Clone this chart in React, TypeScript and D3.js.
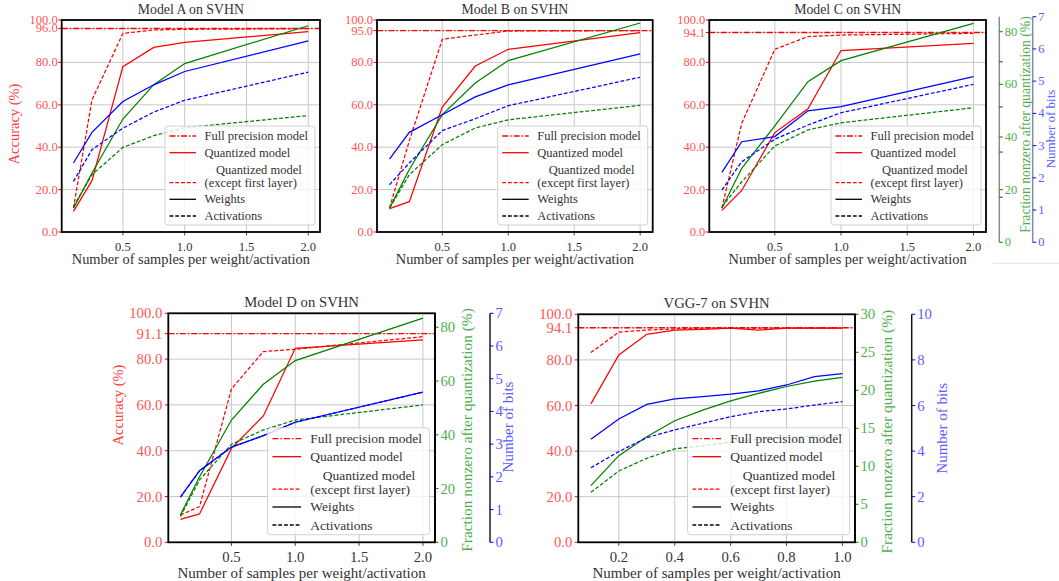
import { useEffect, useRef } from 'react';
import * as d3 from 'd3';

const FONT = "'Liberation Serif', 'DejaVu Serif', serif";

// x values: samples per weight/activation
const samplesSvhn = [0.1, 0.25, 0.5, 0.75, 1.0, 2.0];
const samplesVgg = [0.1, 0.2, 0.3, 0.4, 0.5, 0.6, 0.7, 0.8, 0.9, 1.0];

const titles = ['Model A on SVHN', 'Model B on SVHN', 'Model C on SVHN', 'Model D on SVHN', 'VGG-7 on SVHN'];
const fullPrecisionAcc = [96.0, 95.0, 94.1, 91.1, 94.1];

// Model A
const accQuantA = [9.7, 24.2, 78.0, 87.1, 89.5, 94.5];
const accQuantExA = [11.3, 62.3, 93.7, 95.3, 95.6, 95.9];
const nonzeroWA = [9.6, 23.7, 45.4, 59.2, 67.7, 82.9];
const nonzeroAA = [10.3, 23.0, 34.0, 38.7, 41.9, 46.8];
const bitsWA = [2.28, 3.29, 4.31, 4.86, 5.3, 6.31];
const bitsAA = [1.67, 2.72, 3.43, 3.96, 4.35, 5.28];

// Model B
const accQuantB = [11.0, 14.3, 58.9, 78.3, 86.2, 94.0];
const accQuantExB = [11.3, 43.0, 90.9, 92.9, 94.8, 95.0];
const nonzeroWB = [9.6, 25.1, 47.2, 59.9, 68.9, 84.0];
const nonzeroAB = [9.6, 23.0, 35.1, 41.8, 45.1, 50.9];
const bitsWB = [2.41, 3.29, 3.87, 4.46, 4.86, 5.88];
const bitsAB = [1.56, 2.28, 3.35, 3.74, 4.17, 5.11];

// Model C
const accQuantC = [10.2, 19.6, 46.9, 58.1, 85.6, 89.0];
const accQuantExC = [11.3, 51.3, 86.2, 92.2, 92.9, 93.7];
const nonzeroWC = [12.9, 28.1, 44.2, 61.0, 69.0, 83.2];
const nonzeroAC = [13.5, 23.0, 36.6, 42.7, 45.4, 51.1];
const bitsWC = [2.17, 3.12, 3.28, 4.08, 4.21, 5.14];
const bitsAC = [1.62, 2.5, 3.2, 3.64, 4.02, 4.9];

// Model D
const accQuantD = [10.0, 12.4, 41.0, 55.2, 84.7, 88.4];
const accQuantExD = [11.9, 15.6, 67.0, 83.3, 84.3, 89.8];
const nonzeroWD = [10.2, 24.4, 45.5, 58.8, 67.6, 83.4];
const nonzeroAD = [9.6, 23.2, 36.5, 41.8, 45.5, 51.1];
const bitsWD = [1.38, 2.19, 2.91, 3.26, 3.67, 4.59];
const bitsAD = [1.38, 2.19, 2.91, 3.26, 3.67, 4.59];

// VGG-7
const accQuantV = [60.7, 82.2, 91.2, 93.1, 93.4, 93.9, 93.1, 93.9, 93.9, 93.9];
const accQuantExV = [83.2, 92.2, 93.1, 93.6, 93.9, 93.9, 93.9, 93.9, 93.9, 93.9];
const nonzeroWV = [7.46, 11.4, 13.9, 16.0, 17.4, 18.6, 19.6, 20.5, 21.2, 21.7];
const nonzeroAV = [6.58, 9.39, 11.05, 12.3, 12.7, 13.2, 13.55, 13.8, 14.0, 14.1];
const bitsWV = [4.52, 5.41, 6.05, 6.29, 6.39, 6.5, 6.64, 6.9, 7.27, 7.4];
const bitsAV = [3.27, 3.98, 4.59, 4.93, 5.22, 5.51, 5.73, 5.85, 6.02, 6.17];

// tick labels
const accBaseTicks = [0, 20, 40, 60, 80, 100];
const xTicksSvhn = [0.5, 1.0, 1.5, 2.0];
const xTicksVgg = [0.2, 0.4, 0.6, 0.8, 1.0];
const greenTicksSvhn = [0, 20, 40, 60, 80];
const blueTicksSvhn = [0, 1, 2, 3, 4, 5, 6, 7];
const greenTicksVgg = [0, 5, 10, 15, 20, 25, 30];
const blueTicksVgg = [0, 2, 4, 6, 8, 10];

const legendLabels = ['Full precision model', 'Quantized model', 'Quantized model', '(except first layer)', 'Weights', 'Activations'];

const RED = '#ff0000';
const GREEN = '#008000';
const BLUE = '#0000ff';
const RED_TXT = '#ff5555';
const GREEN_TXT = '#4caf4c';
const BLUE_TXT = '#5b5bff';

const topSize = {
  tick: 12.5, legend: 12.5, title: 13.8, xlabel: 14.4, ylabel: 14.5, glabel: 13.7, blabel: 13,
  s: 1, xTickBase: 18.7, xLabelBase: 32, yPad: 4,
};
const botSize = {
  tick: 14.7, legend: 13.5, title: 14.7, xlabel: 15, ylabel: 14.5, glabel: 15.4, blabel: 15,
  s: 1.08, xTickBase: 20, xLabelBase: 36, yPad: 6,
};

const panels = [
  {
    title: titles[0], x: samplesSvhn, fp: fullPrecisionAcc[0],
    quant: accQuantA, quantEx: accQuantExA, nzW: nonzeroWA, nzA: nonzeroAA, bW: bitsWA, bA: bitsAA,
    l: 61.7, r: 320, t: 20, b: 232, xDomain: [0.005, 2.095], xTicks: xTicksSvhn,
    greenDomain: [0, 85.2], blueDomain: [0, 7], twin: null, size: topSize,
    yLabel: { x: 13.5, y: 124 },
  },
  {
    title: titles[1], x: samplesSvhn, fp: fullPrecisionAcc[1],
    quant: accQuantB, quantEx: accQuantExB, nzW: nonzeroWB, nzA: nonzeroAB, bW: bitsWB, bA: bitsAB,
    l: 377, r: 652.7, t: 20, b: 232, xDomain: [0.005, 2.095], xTicks: xTicksSvhn,
    greenDomain: [0, 85.2], blueDomain: [0, 7], twin: null, size: topSize,
    yLabel: null,
  },
  {
    title: titles[2], x: samplesSvhn, fp: fullPrecisionAcc[2],
    quant: accQuantC, quantEx: accQuantExC, nzW: nonzeroWC, nzA: nonzeroAC, bW: bitsWC, bA: bitsAC,
    l: 709.3, r: 986, t: 20, b: 232, xDomain: [0.005, 2.095], xTicks: xTicksSvhn,
    greenDomain: [0, 85.7], blueDomain: [0, 7], size: topSize,
    twin: {
      t: 16.7, b: 242.3, gx: 999.3, bx: 1032.7, spine: '#8a8a8a', blueSpine: '#8a8aa0',
      gTicks: greenTicksSvhn, bTicks: blueTicksSvhn, gLabel: { x: 1025, y: 124.5 }, bLabel: { x: 1050, y: 129 },
      extraTicks: true,
    },
    yLabel: null,
  },
  {
    title: titles[3], x: samplesSvhn, fp: fullPrecisionAcc[3],
    quant: accQuantD, quantEx: accQuantExD, nzW: nonzeroWD, nzA: nonzeroAD, bW: bitsWD, bA: bitsAD,
    l: 168.3, r: 435, t: 313.3, b: 542.3, xDomain: [0.005, 2.095], xTicks: xTicksSvhn,
    greenDomain: [0, 85.2], blueDomain: [0, 7], size: botSize,
    twin: {
      t: 313.3, b: 542.3, gx: 435, bx: 490, spine: '#000', blueSpine: '#1a1a33',
      gTicks: greenTicksSvhn, bTicks: blueTicksSvhn, gLabel: { x: 466.7, y: 430 }, bLabel: { x: 508, y: 427 },
      extraTicks: false,
    },
    yLabel: { x: 118, y: 405 },
  },
  {
    title: titles[4], x: samplesVgg, fp: fullPrecisionAcc[4],
    quant: accQuantV, quantEx: accQuantExV, nzW: nonzeroWV, nzA: nonzeroAV, bW: bitsWV, bA: bitsAV,
    l: 578.3, r: 855, t: 314.3, b: 542.3, xDomain: [0.055, 1.045], xTicks: xTicksVgg,
    greenDomain: [0, 30], blueDomain: [0, 10], size: botSize,
    twin: {
      t: 314.3, b: 542.3, gx: 855, bx: 911.7, spine: '#000', blueSpine: '#111',
      gTicks: greenTicksVgg, bTicks: blueTicksVgg, gLabel: { x: 886.7, y: 431.7 }, bLabel: { x: 941.7, y: 428.3 },
      extraTicks: false,
    },
    yLabel: null,
  },
];

function drawPanel(root: any, p: any) {
  const s = p.size;
  const g = root.append('g');
  const x = d3.scaleLinear().domain(p.xDomain).range([p.l, p.r]);
  const yAcc = d3.scaleLinear().domain([0, 100]).range([p.b, p.t]);
  const tt = p.twin ? p.twin.t : p.t;
  const tb = p.twin ? p.twin.b : p.b;
  const yG = d3.scaleLinear().domain(p.greenDomain).range([tb, tt]);
  const yB = d3.scaleLinear().domain(p.blueDomain).range([tb, tt]);
  const accTicks = [...accBaseTicks.slice(0, 5), p.fp, 100];

  // grid
  g.selectAll('.gx').data(p.xTicks).enter().append('line')
    .attr('x1', (d: number) => x(d)).attr('x2', (d: number) => x(d))
    .attr('y1', p.t).attr('y2', p.b)
    .attr('stroke', '#c8c8c8').attr('stroke-width', 1);
  g.selectAll('.gy').data(accTicks).enter().append('line')
    .attr('x1', p.l).attr('x2', p.r)
    .attr('y1', (d: number) => yAcc(d)).attr('y2', (d: number) => yAcc(d))
    .attr('stroke', '#c8c8c8').attr('stroke-width', 1);

  // full precision reference
  g.append('line')
    .attr('x1', p.l).attr('x2', p.r).attr('y1', yAcc(p.fp)).attr('y2', yAcc(p.fp))
    .attr('stroke', RED).attr('stroke-width', 1.3).attr('stroke-dasharray', '6,2,1.5,2');

  const lineAcc = d3.line<number>().x((d, i) => x(p.x[i])).y((d) => yAcc(d));
  const lineG = d3.line<number>().x((d, i) => x(p.x[i])).y((d) => yG(d));
  const lineB = d3.line<number>().x((d, i) => x(p.x[i])).y((d) => yB(d));

  const series = [
    { d: p.quant, line: lineAcc, c: RED, dash: null },
    { d: p.quantEx, line: lineAcc, c: RED, dash: '3.8,2' },
    { d: p.nzW, line: lineG, c: GREEN, dash: null },
    { d: p.nzA, line: lineG, c: GREEN, dash: '3.8,2' },
    { d: p.bW, line: lineB, c: BLUE, dash: null },
    { d: p.bA, line: lineB, c: BLUE, dash: '3.8,2' },
  ];
  series.forEach((sr) => {
    g.append('path').datum(sr.d)
      .attr('fill', 'none').attr('stroke', sr.c).attr('stroke-width', 1.25)
      .attr('stroke-dasharray', sr.dash)
      .attr('d', sr.line);
  });

  // x ticks
  g.selectAll('.xt').data(p.xTicks).enter().append('line')
    .attr('x1', (d: number) => x(d)).attr('x2', (d: number) => x(d))
    .attr('y1', p.b).attr('y2', p.b + 3.5)
    .attr('stroke', '#444').attr('stroke-width', 1);
  g.selectAll('.xl').data(p.xTicks).enter().append('text')
    .attr('x', (d: number) => x(d)).attr('y', p.b + s.xTickBase)
    .attr('text-anchor', 'middle').attr('font-size', s.tick).attr('fill', '#333')
    .text((d: number) => d.toFixed(1));

  // y ticks (accuracy)
  g.selectAll('.yt').data(accTicks).enter().append('line')
    .attr('x1', p.l - 3.5).attr('x2', p.l)
    .attr('y1', (d: number) => yAcc(d)).attr('y2', (d: number) => yAcc(d))
    .attr('stroke', RED).attr('stroke-width', 1);
  g.selectAll('.yl').data(accTicks).enter().append('text')
    .attr('x', p.l - s.yPad).attr('y', (d: number) => yAcc(d))
    .attr('text-anchor', 'end').attr('dominant-baseline', 'central')
    .attr('font-size', s.tick).attr('fill', RED_TXT)
    .text((d: number) => d.toFixed(1));

  // twin axes
  if (p.twin) {
    const tw = p.twin;
    g.append('line').attr('x1', tw.gx).attr('x2', tw.gx).attr('y1', tw.t).attr('y2', tw.b)
      .attr('stroke', tw.spine).attr('stroke-width', 1.5);
    g.append('line').attr('x1', tw.bx).attr('x2', tw.bx).attr('y1', tw.t).attr('y2', tw.b)
      .attr('stroke', tw.blueSpine).attr('stroke-width', 1.5);
    if (tw.extraTicks) {
      g.selectAll('.et').data([0.2, 0.4, 0.6, 0.8]).enter().append('line')
        .attr('x1', tw.gx).attr('x2', tw.gx + 3.5)
        .attr('y1', (d: number) => tw.b - d * (tw.b - tw.t)).attr('y2', (d: number) => tw.b - d * (tw.b - tw.t))
        .attr('stroke', '#333').attr('stroke-width', 1);
    }
    g.selectAll('.gt').data(tw.gTicks).enter().append('line')
      .attr('x1', tw.gx).attr('x2', tw.gx + 3.5)
      .attr('y1', (d: number) => yG(d)).attr('y2', (d: number) => yG(d))
      .attr('stroke', GREEN).attr('stroke-width', 1);
    g.selectAll('.gl').data(tw.gTicks).enter().append('text')
      .attr('x', tw.gx + 5.5).attr('y', (d: number) => yG(d))
      .attr('dominant-baseline', 'central').attr('font-size', s.tick).attr('fill', GREEN_TXT)
      .text((d: number) => String(d));
    g.selectAll('.bt').data(tw.bTicks).enter().append('line')
      .attr('x1', tw.bx).attr('x2', tw.bx + 3.5)
      .attr('y1', (d: number) => yB(d)).attr('y2', (d: number) => yB(d))
      .attr('stroke', BLUE).attr('stroke-width', 1);
    g.selectAll('.bl').data(tw.bTicks).enter().append('text')
      .attr('x', tw.bx + 5.5).attr('y', (d: number) => yB(d))
      .attr('dominant-baseline', 'central').attr('font-size', s.tick).attr('fill', BLUE_TXT)
      .text((d: number) => String(d));
    g.append('text')
      .attr('transform', `translate(${tw.gLabel.x},${tw.gLabel.y}) rotate(-90)`)
      .attr('text-anchor', 'middle').attr('dominant-baseline', 'central')
      .attr('font-size', s.glabel).attr('fill', GREEN_TXT)
      .text('Fraction nonzero after quantization (%)');
    g.append('text')
      .attr('transform', `translate(${tw.bLabel.x},${tw.bLabel.y}) rotate(-90)`)
      .attr('text-anchor', 'middle').attr('dominant-baseline', 'central')
      .attr('font-size', s.blabel).attr('fill', BLUE_TXT)
      .text('Number of bits');
  }

  // spines
  g.append('rect').attr('x', p.l).attr('y', p.t).attr('width', p.r - p.l).attr('height', p.b - p.t)
    .attr('fill', 'none').attr('stroke', '#000').attr('stroke-width', 1.8);

  // title and labels
  g.append('text').attr('x', (p.l + p.r) / 2).attr('y', p.t - 6)
    .attr('text-anchor', 'middle').attr('font-size', s.title).attr('fill', '#333')
    .text(p.title);
  g.append('text').attr('x', (p.l + p.r) / 2).attr('y', p.b + s.xLabelBase)
    .attr('text-anchor', 'middle').attr('font-size', s.xlabel).attr('fill', '#333')
    .text('Number of samples per weight/activation');
  if (p.yLabel) {
    g.append('text')
      .attr('transform', `translate(${p.yLabel.x},${p.yLabel.y}) rotate(-90)`)
      .attr('text-anchor', 'middle').attr('dominant-baseline', 'central')
      .attr('font-size', s.ylabel).attr('fill', '#ff3b3b')
      .text('Accuracy (%)');
  }

  // legend
  const k = s.s;
  const lw = 150 * k;
  const lh = 99 * k;
  const lx = p.r - 5 * k - lw;
  const ly = p.b - 7 * k - lh;
  const lg = g.append('g');
  lg.append('rect').attr('x', lx).attr('y', ly).attr('width', lw).attr('height', lh)
    .attr('rx', 3).attr('fill', '#fff').attr('fill-opacity', 0.8)
    .attr('stroke', '#d0d0d0').attr('stroke-width', 1);
  const rowY = [10, 26.7, 44.3, 56.7, 73.3, 90].map((v) => ly + v * k);
  const handles = [
    { row: 0, c: RED, dash: '6,2,1.5,2' },
    { row: 1, c: RED, dash: null },
    { row: 3, c: RED, dash: '3.8,2' },
    { row: 4, c: '#000', dash: null },
    { row: 5, c: '#000', dash: '3.8,2' },
  ];
  handles.forEach((h) => {
    lg.append('line').attr('x1', lx + 4.5 * k).attr('x2', lx + 31 * k)
      .attr('y1', rowY[h.row]).attr('y2', rowY[h.row])
      .attr('stroke', h.c).attr('stroke-width', 1.3).attr('stroke-dasharray', h.dash);
  });
  legendLabels.forEach((t, i) => {
    lg.append('text').attr('x', lx + (i === 2 ? 51 : 39.5) * k).attr('y', rowY[i])
      .attr('dominant-baseline', 'central').attr('font-size', s.legend).attr('fill', '#333')
      .text(t);
  });
}

export default function App() {
  const ref = useRef<SVGSVGElement>(null);

  useEffect(() => {
    const svg = d3.select(ref.current);
    svg.selectAll('*').remove();
    svg.append('rect').attr('width', 1059).attr('height', 581).attr('fill', '#fff');
    const root = svg.append('g').style('font-family', FONT);
    panels.forEach((p) => drawPanel(root, p));
    // faint leftover line at the right of the top row
    root.append('line').attr('x1', 993).attr('x2', 1059).attr('y1', 263.3).attr('y2', 263.3)
      .attr('stroke', '#e0e0e0').attr('stroke-width', 1);
  }, []);

  return (
    <svg
      ref={ref}
      width={1059}
      height={581}
      style={{ position: 'absolute', left: 0, top: 0, fontFamily: FONT }}
    ></svg>
  );
}
